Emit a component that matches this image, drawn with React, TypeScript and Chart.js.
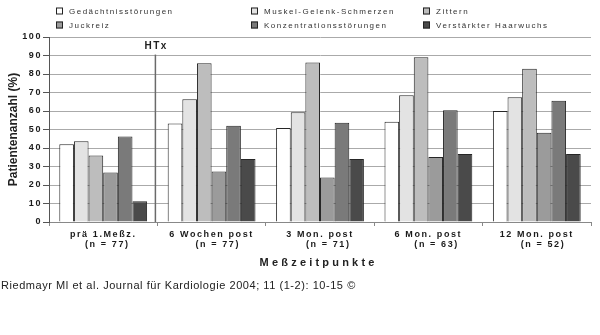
import React, { useEffect, useRef } from 'react';
import { Chart, registerables } from 'chart.js';

Chart.register(...registerables);

const categories: string[][] = [
  ['prä 1.Meßz.', '  (n = 77)'],
  ['6 Wochen post', '   (n = 77)'],
  ['3 Mon. post', '    (n = 71)'],
  ['6 Mon. post', '    (n = 63)'],
  ['12 Mon. post', '   (n = 52)'],
];

const seriesNames = [
  'Gedächtnisstörungen',
  'Muskel-Gelenk-Schmerzen',
  'Zittern',
  'Juckreiz',
  'Konzentrationsstörungen',
  'Verstärkter Haarwuchs',
];

const gedaechtnis = [42, 53.3, 50.8, 54.2, 60];
const muskel = [43.6, 66.3, 59.3, 68.5, 67.4];
const zittern = [36, 85.8, 86.2, 89.1, 82.8];
const juckreiz = [26.7, 27.3, 24, 35.1, 48.2];
const konzentration = [46.2, 52, 53.7, 60.4, 65.6];
const haarwuchs = [11.2, 34, 34, 36.7, 36.7];

const seriesValues = [gedaechtnis, muskel, zittern, juckreiz, konzentration, haarwuchs];
const seriesColors = ['#ffffff', '#e3e3e3', '#bdbdbd', '#9b9b9b', '#7a7a7a', '#4a4a4a'];

const yMin = 0;
const yMax = 100;
const yStep = 10;

const yTitle = 'Patientenanzahl (%)';
const xTitle = 'Meßzeitpunkte';
const markerLabel = 'HTx';
const sourceText = 'Riedmayr Ml et al. Journal für Kardiologie 2004; 11 (1-2): 10-15 ©';

const FONT = '"Liberation Sans", Arial, Helvetica, sans-serif';

const spacingPlugin = {
  id: 'spacing',
  beforeLayout(chart: any) {
    chart.ctx.letterSpacing = '1.6px';
  },
  beforeDraw(chart: any) {
    chart.ctx.letterSpacing = '1.6px';
  },
};

const decorPlugin = {
  id: 'decor',
  afterDraw(chart: any) {
    const ctx = chart.ctx as CanvasRenderingContext2D;
    const xs = chart.scales.x;
    const ys = chart.scales.y;
    const area = chart.chartArea;
    ctx.save();

    // HTx separator line
    const bx = (xs.getPixelForValue(0) + xs.getPixelForValue(1)) / 2 - 2;
    ctx.strokeStyle = '#6a6a6a';
    ctx.lineWidth = 1.5;
    ctx.beginPath();
    ctx.moveTo(bx, ys.getPixelForValue(90.5));
    ctx.lineTo(bx, ys.getPixelForValue(0));
    ctx.stroke();

    ctx.fillStyle = '#222';
    (ctx as any).letterSpacing = '1.4px';
    ctx.font = `bold 10px ${FONT}`;
    ctx.textAlign = 'center';
    ctx.textBaseline = 'middle';
    ctx.fillText(markerLabel, bx + 0.7, ys.getPixelForValue(94.8));

    // Y title
    (ctx as any).letterSpacing = '0px';
    ctx.font = `bold 12px ${FONT}`;
    ctx.save();
    ctx.translate(14, (area.top + area.bottom) / 2);
    ctx.rotate(-Math.PI / 2);
    ctx.fillText(yTitle, 0, 0);
    ctx.restore();

    // X title
    (ctx as any).letterSpacing = '3.2px';
    ctx.font = `bold 11px ${FONT}`;
    ctx.fillText(xTitle, (area.left + area.right) / 2 - 3 + 1.6, 263);

    // Legend
    const colX = [56, 251, 423];
    const rowY = [11, 25];
    (ctx as any).letterSpacing = '1.5px';
    ctx.font = `8px ${FONT}`;
    ctx.textAlign = 'left';
    seriesNames.forEach((name, i) => {
      const cx = colX[i % 3];
      const cy = rowY[Math.floor(i / 3)];
      ctx.fillStyle = seriesColors[i];
      ctx.fillRect(cx, cy - 3.5, 7, 7);
      ctx.strokeStyle = '#222';
      ctx.lineWidth = 1;
      ctx.strokeRect(cx + 0.5, cy - 3.5 + 0.5, 6, 6);
      ctx.fillStyle = '#333';
      ctx.fillText(name, cx + 13, cy + 0.5);
    });

    // Source
    (ctx as any).letterSpacing = '0.55px';
    ctx.font = `11px ${FONT}`;
    ctx.fillStyle = '#222';
    ctx.textAlign = 'left';
    ctx.fillText(sourceText, 1, 286);

    ctx.restore();
  },
};

export default function App() {
  const canvasRef = useRef<HTMLCanvasElement | null>(null);

  useEffect(() => {
    document.body.style.margin = '0';
    const canvas = canvasRef.current;
    if (!canvas) return;
    const chart = new Chart(canvas, {
      type: 'bar',
      data: {
        labels: categories,
        datasets: seriesNames.map((name, i) => ({
          label: name,
          data: seriesValues[i],
          backgroundColor: seriesColors[i],
          borderColor: '#262626',
          borderWidth: 1,
          categoryPercentage: 0.81,
          barPercentage: 1.0,
        })),
      },
      options: {
        animation: false,
        responsive: false,
        devicePixelRatio: 1,
        layout: { padding: { top: 37, right: 9, left: 0, bottom: 0 } },
        plugins: {
          legend: { display: false },
          tooltip: { enabled: false },
          title: { display: false },
        },
        scales: {
          x: {
            offset: true,
            grid: {
              display: true,
              drawOnChartArea: false,
              drawTicks: true,
              tickLength: 4,
              tickColor: '#888',
              offset: true,
            },
            border: { display: true, color: '#888', width: 1 },
            ticks: {
              color: '#1a1a1a',
              font: { family: FONT, size: 9, weight: 'bold', lineHeight: 1.15 },
              padding: 3,
              maxRotation: 0,
              autoSkip: false,
            },
            afterFit(scale: any) {
              scale.height = 113;
            },
          },
          y: {
            min: yMin,
            max: yMax,
            ticks: {
              stepSize: yStep,
              color: '#1a1a1a',
              font: { family: FONT, size: 9, weight: 'bold' },
              padding: 1,
            },
            grid: {
              color: '#aaaaaa',
              lineWidth: 1,
              tickLength: 6,
              tickColor: '#555',
            },
            border: { display: true, color: '#555', width: 1 },
            afterFit(scale: any) {
              scale.width = 49;
            },
          },
        },
      },
      plugins: [spacingPlugin, decorPlugin],
    });
    return () => chart.destroy();
  }, []);

  return (
    <div style={{ position: 'relative', width: 600, height: 335, background: '#fff' }}>
      <canvas ref={canvasRef} width={600} height={335} style={{ display: 'block' }} />
    </div>
  );
}
